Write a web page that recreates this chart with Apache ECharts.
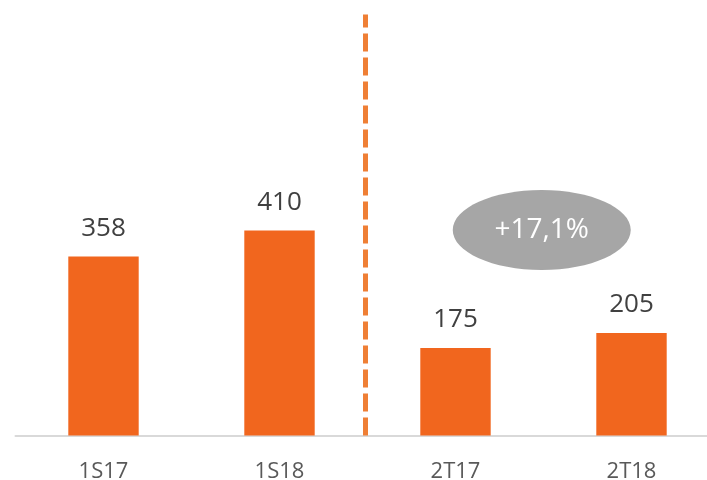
<!DOCTYPE html>
<html>
<head>
<meta charset="utf-8">
<script src="https://cdn.jsdelivr.net/npm/echarts@6/dist/echarts.min.js"></script>
<style>
  html, body { margin: 0; padding: 0; background: #fff; }
  #main { width: 707px; height: 480px; }
</style>
</head>
<body>
<div id="main"></div>
<script>
// 数据
var categories = ["1S17", "1S18", "2T17", "2T18"];
var values = [358, 410, 175, 205];
var growthText = "+17,1%";

var myChart = echarts.init(document.getElementById("main"));
var font = "'Open Sans', sans-serif";

var option = {
  animation: false,
  grid: {
    left: 15.5,
    width: 704,
    top: 14.5,
    height: 421,
    outerBoundsMode: "none",
    containLabel: false
  },
  xAxis: [
    {
      type: "category",
      data: categories,
      axisTick: { show: false },
      axisLine: { lineStyle: { color: "#d9d9d9", width: 2 } },
      axisLabel: {
        margin: 25,
        color: "#595959",
        fontSize: 22,
        fontFamily: font
      }
    },
    {
      // 辅助轴，用于分隔线和椭圆定位
      type: "value",
      min: -0.5,
      max: 3.5,
      show: false
    }
  ],
  yAxis: {
    type: "value",
    min: 0,
    max: 842,
    show: false,
    splitLine: { show: false }
  },
  series: [
    {
      type: "bar",
      data: values,
      barWidth: "40%",
      itemStyle: { color: "#F1661E" },
      label: {
        show: true,
        position: "top",
        distance: 15,
        color: "#404040",
        fontSize: 26,
        fontFamily: font
      }
    },
    {
      type: "scatter",
      xAxisIndex: 1,
      data: [],
      markLine: {
        silent: true,
        symbol: "none",
        label: { show: false },
        lineStyle: {
          color: "#EF7F35",
          width: 5,
          type: [18, 6]
        },
        data: [{ xAxis: 1.49 }]
      }
    }
  ]
};
myChart.setOption(option);

// 椭圆标注
var p = myChart.convertToPixel({ xAxisIndex: 1, yAxisIndex: 0 }, [2.49, 411]);
var cx = p[0];
var cy = p[1];
myChart.setOption({
  graphic: [
    {
      type: "ellipse",
      shape: { cx: cx, cy: cy, rx: 89, ry: 40 },
      style: { fill: "#a6a6a6" },
      z: 10
    },
    {
      type: "text",
      x: cx,
      y: cy,
      z: 11,
      style: {
        text: growthText,
        fill: "#fff",
        fontSize: 28,
        fontFamily: font,
        align: "center",
        verticalAlign: "middle"
      }
    }
  ]
});
</script>
</body>
</html>
